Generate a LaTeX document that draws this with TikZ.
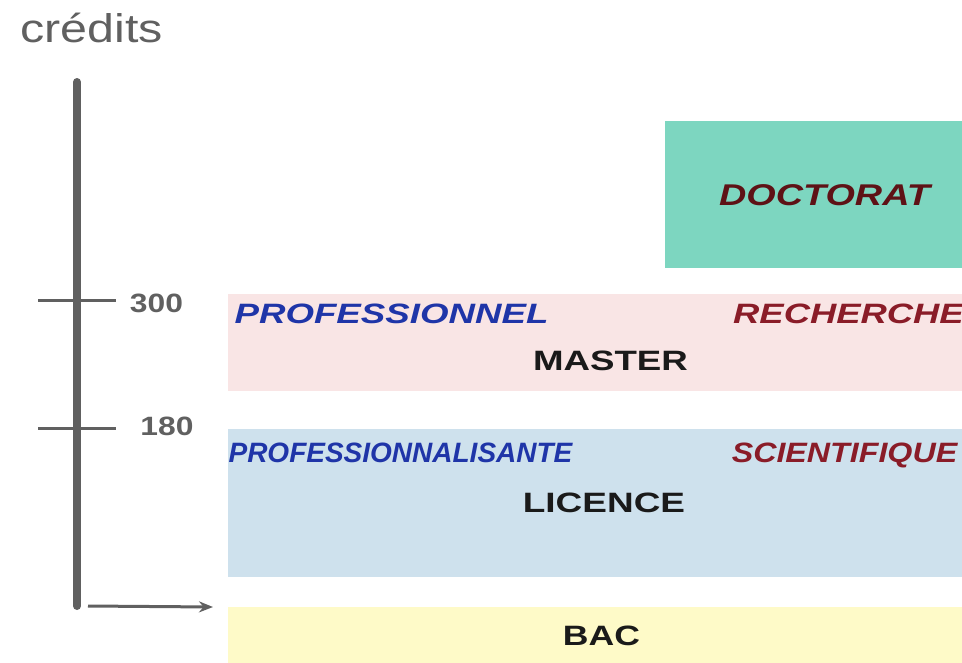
\documentclass[tikz,border=0pt]{standalone}
\usepackage{fontspec}
\setmainfont{Liberation Sans}
\usepackage{graphicx}
\usetikzlibrary{arrows.meta, positioning}
\definecolor{axisgray}{HTML}{606060}
\definecolor{doctteal}{HTML}{7DD6C0}
\definecolor{masterpink}{HTML}{F9E5E5}
\definecolor{licblue}{HTML}{CEE1ED}
\definecolor{bacyellow}{HTML}{FEFAC8}
\definecolor{problue}{HTML}{1F35A8}
\definecolor{recred}{HTML}{8A1C28}
\definecolor{doctred}{HTML}{5E1216}
\definecolor{labelblack}{HTML}{1A1A1A}
\newcommand{\hwide}[2]{\scalebox{#1}[1]{#2}}

\begin{document}
\begin{tikzpicture}[
    x=1pt, y=-1pt,
    >={Stealth[length=14pt, width=11pt]},
    level/.style={inner sep=0pt, outer sep=0pt, anchor=north west},
    big/.style={font=\fontsize{28}{32}\selectfont\bfseries, inner sep=0pt},
    track/.style={font=\fontsize{28}{32}\selectfont\bfseries\itshape, inner sep=0pt},
    tick/.style={line width=3pt, draw=axisgray},
    arr/.style={->, line width=3pt, draw=axisgray},
    credit/.style={font=\fontsize{26.5}{30}\selectfont\bfseries, text=axisgray, inner sep=0pt, anchor=base},
]
\useasboundingbox (0,0) rectangle (962,662);

% Levels
\node[level, fill=doctteal, minimum width=320pt, minimum height=147pt] (doct) at (665,121) {};
\node[level, fill=masterpink, minimum width=760pt, minimum height=97pt] (master) at (228,294) {};
\node[level, fill=licblue, minimum width=760pt, minimum height=148pt] (licence) at (228,429) {};
\node[level, fill=bacyellow, minimum width=760pt, minimum height=70pt] (bac) at (228,607) {};

% Level names
\node[track, text=doctred, font=\fontsize{30}{34}\selectfont\bfseries\itshape, anchor=base] (doctlbl) at (824.5,205) {\hwide{1.26}{DOCTORAT}};
\node[track, text=problue, anchor=base] (mpro) at (391.5,323) {\hwide{1.31}{PROFESSIONNEL}};
\node[track, text=recred, anchor=base west] (mrec) at (733,323) {\hwide{1.3}{RECHERCHE}};
\node[big, text=labelblack, anchor=base] (masterlbl) at (610.5,370) {\hwide{1.31}{MASTER}};
\node[track, text=problue, anchor=base] (lpro) at (400.5,462) {PROFESSIONNALISANTE};
\node[track, text=recred, anchor=base] (lsci) at (844.5,462) {\hwide{1.15}{SCIENTIFIQUE}};
\node[big, text=labelblack, anchor=base] (licencelbl) at (604,512) {\hwide{1.32}{LICENCE}};
\node[big, text=labelblack, anchor=base] (baclbl) at (601.5,645) {\hwide{1.27}{BAC}};

% Credit axis
\node[font=\fontsize{40}{44}\selectfont, text=axisgray, inner sep=0pt, anchor=base] (credits) at (91.5,42) {\hwide{1.21}{crédits}};
\coordinate (top) at (77,82);
\coordinate (bot) at (77,606);
\draw[line width=8pt, draw=axisgray, line cap=round] (top) -- (bot);

% Ticks
\coordinate (t300) at (77,300);
\coordinate (t180) at (77,428);
\draw[tick] ([xshift=-39pt]t300) -- ([xshift=39pt]t300);
\draw[tick] ([xshift=-39pt]t180) -- ([xshift=39pt]t180);
\node[credit] (c300) at (156.5,312) {\hwide{1.2}{300}};
\node[credit] (c180) at (167,435) {\hwide{1.2}{180}};

% Entry arrow
\draw[arr] ([xshift=11pt]bot) -- ([xshift=-15pt]bac.north west);

\end{tikzpicture}
\end{document}
